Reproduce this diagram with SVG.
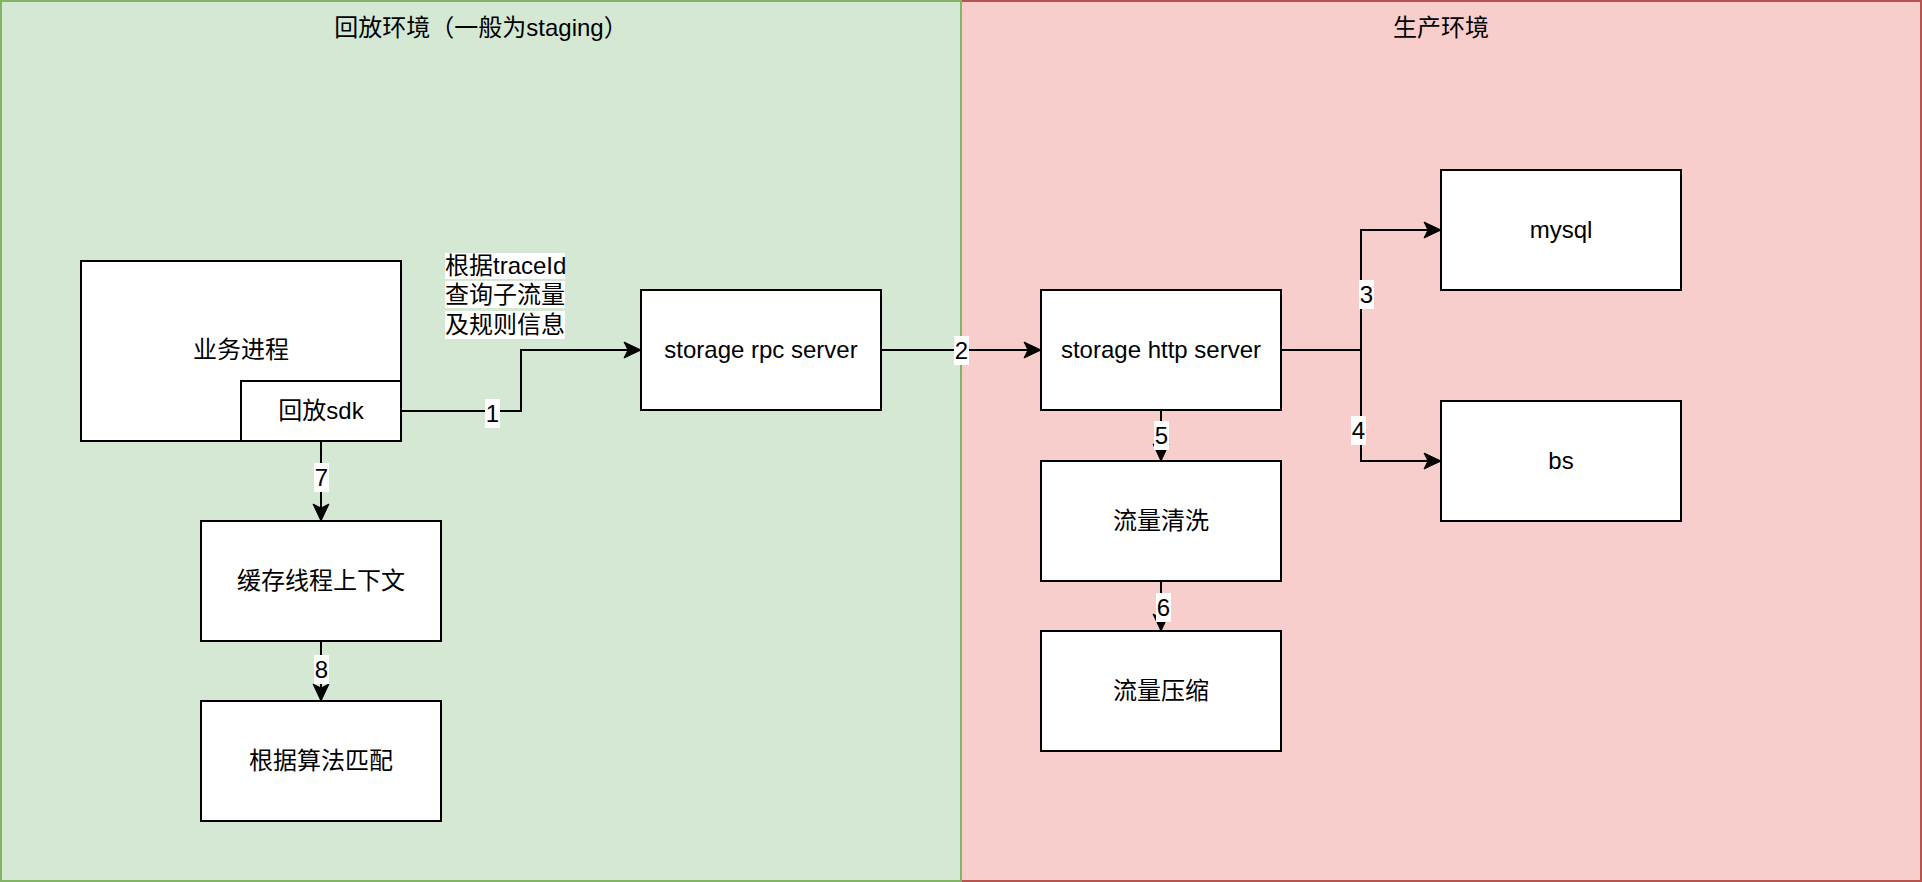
<svg xmlns="http://www.w3.org/2000/svg" width="1922" height="882" viewBox="0 0 1922 882">
<style>
text{font-family:"Liberation Sans","Noto Sans CJK SC",sans-serif;font-size:24px;fill:#000;text-anchor:middle}
.box{fill:#fff;stroke:#000;stroke-width:2}
.edge{fill:none;stroke:#000;stroke-width:2}
.lbg{fill:#fff}
</style>
<defs>
<marker id="arr" viewBox="0 0 20 20" refX="18" refY="10" markerWidth="20" markerHeight="20" markerUnits="userSpaceOnUse" orient="auto">
<path d="M18,10 L1,2 L5,10 L1,18 Z" fill="#000" stroke="#000" stroke-width="1"/>
</marker>
</defs>
<g id="prod-env">
<rect x="961" y="1" width="960" height="880" fill="#f8cecc" stroke="#b85450" stroke-width="2"/>
<text x="1441" y="36">生产环境</text>
</g>
<g id="replay-env">
<rect x="1" y="1" width="960" height="880" fill="#d5e8d4" stroke="#82b366" stroke-width="2"/>
<text x="481" y="36">回放环境（一般为staging）</text>
</g>
<g id="connectors">
<path class="edge" d="M401,411 H521 V350 H641" marker-end="url(#arr)"/>
<path class="edge" d="M881,350 H1041" marker-end="url(#arr)"/>
<path class="edge" d="M1281,350 H1361 V230 H1441" marker-end="url(#arr)"/>
<path class="edge" d="M1281,350 H1361 V461 H1441" marker-end="url(#arr)"/>
<path class="edge" d="M1161,411 V461" marker-end="url(#arr)"/>
<path class="edge" d="M1161,581 V631" marker-end="url(#arr)"/>
<path class="edge" d="M321,441 V521" marker-end="url(#arr)"/>
<path class="edge" d="M321,641 V701" marker-end="url(#arr)"/>
<g id="edge-labels">
<rect class="lbg" x="485" y="399" width="15" height="29"/><text x="492.5" y="422">1</text>
<rect class="lbg" x="954" y="336" width="15" height="29"/><text x="961.5" y="359">2</text>
<rect class="lbg" x="1359" y="280" width="15" height="29"/><text x="1366.5" y="303">3</text>
<rect class="lbg" x="1351" y="416" width="15" height="29"/><text x="1358.5" y="439">4</text>
<rect class="lbg" x="1154" y="421" width="15" height="29"/><text x="1161.5" y="444">5</text>
<rect class="lbg" x="1156" y="593" width="15" height="29"/><text x="1163.5" y="616">6</text>
<rect class="lbg" x="314" y="463" width="15" height="29"/><text x="321.5" y="486">7</text>
<rect class="lbg" x="314" y="655" width="15" height="29"/><text x="321.5" y="678">8</text>
</g>
</g>
<g id="query-note">
<rect class="lbg" x="445" y="253" width="120" height="26"/>
<rect class="lbg" x="445" y="281" width="120" height="27"/>
<rect class="lbg" x="445" y="311" width="120" height="28"/>
<text x="445" y="274" style="text-anchor:start">根据traceId</text>
<text x="445" y="303" style="text-anchor:start">查询子流量</text>
<text x="445" y="333" style="text-anchor:start">及规则信息</text>
</g>
<g id="biz-process">
<rect class="box" x="81" y="261" width="320" height="180"/>
<text x="241" y="358">业务进程</text>
</g>
<g id="replay-sdk">
<rect class="box" x="241" y="381" width="160" height="60"/>
<text x="321" y="419">回放sdk</text>
</g>
<g id="rpc-server">
<rect class="box" x="641" y="290" width="240" height="120"/>
<text x="761" y="358">storage rpc server</text>
</g>
<g id="http-server">
<rect class="box" x="1041" y="290" width="240" height="120"/>
<text x="1161" y="358">storage http server</text>
</g>
<g id="mysql">
<rect class="box" x="1441" y="170" width="240" height="120"/>
<text x="1561" y="238">mysql</text>
</g>
<g id="bs">
<rect class="box" x="1441" y="401" width="240" height="120"/>
<text x="1561" y="469">bs</text>
</g>
<g id="traffic-clean">
<rect class="box" x="1041" y="461" width="240" height="120"/>
<text x="1161" y="529">流量清洗</text>
</g>
<g id="traffic-compress">
<rect class="box" x="1041" y="631" width="240" height="120"/>
<text x="1161" y="699">流量压缩</text>
</g>
<g id="cache-context">
<rect class="box" x="201" y="521" width="240" height="120"/>
<text x="321" y="589">缓存线程上下文</text>
</g>
<g id="algo-match">
<rect class="box" x="201" y="701" width="240" height="120"/>
<text x="321" y="769">根据算法匹配</text>
</g>
</svg>
